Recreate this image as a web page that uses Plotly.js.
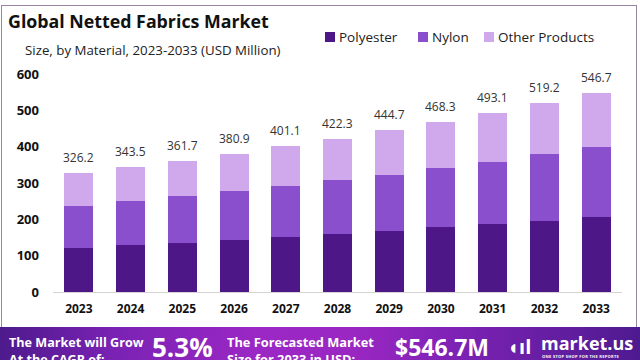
<!DOCTYPE html>
<html>
<head>
<meta charset="utf-8">
<script src="https://cdn.plot.ly/plotly-3.0.1.min.js"></script>
<style>
  html, body { margin:0; padding:0; background:#fff; }
  #wrap { position:relative; width:640px; height:360px; overflow:hidden; font-family:"Open Sans", sans-serif; }
  #chart { position:absolute; left:0; top:0; width:640px; height:360px; }
  #frame { position:absolute; left:1px; top:5px; width:634px; height:330px; border:1.5px solid #9a84a6; border-bottom:none; pointer-events:none; }
  #banner { position:absolute; left:0; top:327px; width:640px; height:33px; overflow:hidden;
    background:linear-gradient(90deg,#4d1a8c 0%,#7a22b4 18%,#9b28c4 40%,#9a27c2 55%,#7c22b4 72%,#4e1a90 100%); color:#fff; }
  .b { position:absolute; font-weight:700; white-space:nowrap; line-height:1.15; }
</style>
</head>
<body>
<div id="wrap">
  <div id="chart"></div>
  <div id="frame"></div>
  <div id="banner">
    <div class="b" style="left:9px;top:8px;font-size:12.6px;line-height:16.5px;">The Market will Grow<br>At the CAGR of:</div>
    <div class="b" style="left:152px;top:6px;font-size:26px;">5.3%</div>
    <div class="b" style="left:227px;top:7px;font-size:12.8px;line-height:16.5px;">The Forecasted Market<br>Size for 2033 in USD:</div>
    <div class="b" style="left:395px;top:7px;font-size:23px;">$546.7M</div>
    <div class="b" style="left:507px;top:8px;font-size:20px;">&#x25D6;ıl</div>
    <div class="b" style="left:541px;top:7px;font-size:18px;line-height:1;">market.us</div>
    <div class="b" style="left:542px;top:28px;font-size:4px;line-height:1;letter-spacing:0.3px;">ONE STOP SHOP FOR THE REPORTS</div>
  </div>
</div>
<script>
const years = ['2023','2024','2025','2026','2027','2028','2029','2030','2031','2032','2033'];
const polyester = [122, 130, 136, 144, 151, 160, 167, 178, 187, 196, 207];
const nylon = [114, 120, 127, 133, 140, 148, 156, 163, 172, 183, 192];
const otherProducts = [90.2, 93.5, 98.7, 103.9, 110.1, 114.3, 121.7, 127.3, 134.1, 140.2, 147.7];
const totals = [326.2, 343.5, 361.7, 380.9, 401.1, 422.3, 444.7, 468.3, 493.1, 519.2, 546.7];
const yTicks = [0, 100, 200, 300, 400, 500, 600];
const seriesNames = ['Polyester', 'Nylon', 'Other Products'];
const seriesColors = ['#4e1788', '#8a4fcd', '#d0a8ec'];

const font = '"Open Sans", sans-serif';
const seriesValues = [polyester, nylon, otherProducts];
const traces = seriesValues.map((vals, k) => ({
  type:'bar', name:seriesNames[k], x:years, y:vals, marker:{color:seriesColors[k]}, showlegend:false
}));

// total labels above each stack (category index position)
const annotations = years.map((yr, i) => ({
  x: i, y: totals[i], xref:'x', yref:'y', text: totals[i].toFixed(1),
  showarrow:false, yanchor:'bottom', yshift:5,
  font:{family:font, size:12, color:'#333'}
}));
annotations.push({
  xref:'paper', yref:'paper', x:-0.053, y:1.11, xanchor:'left', yanchor:'middle',
  text:'Size, by Material, 2023-2033 (USD Million)', showarrow:false,
  font:{family:font, size:13.3, color:'#222'}
});

// custom legend (square + label) placed in the header
const plotL = 53, plotW = 569, plotB = 292, plotH = 218;
const legendSquareX = [325, 418, 484];
const legendY = (plotB - 37) / plotH;
const shapes = [];
seriesNames.forEach((nm, k) => {
  const ax = (legendSquareX[k] - plotL) / plotW;
  shapes.push({type:'rect', xref:'paper', yref:'paper', xsizemode:'pixel', ysizemode:'pixel',
    xanchor:ax, yanchor:legendY, x0:0, x1:10, y0:-5, y1:5, fillcolor:seriesColors[k], line:{width:0}});
  annotations.push({xref:'paper', yref:'paper', x:ax, xshift:12, y:legendY, xanchor:'left', yanchor:'middle',
    text:nm, showarrow:false, font:{family:font, size:13.5, color:'#222'}});
});

const layout = {
  width:640, height:360,
  margin:{l:plotL, r:640 - plotL - plotW, t:plotB - plotH, b:360 - plotB},
  paper_bgcolor:'rgba(0,0,0,0)', plot_bgcolor:'rgba(0,0,0,0)',
  barmode:'stack', bargap:0.44,
  title:{text:'<b>Global Netted Fabrics Market</b>', x:0.0125, xanchor:'left', xref:'container',
         y:0.94, yanchor:'middle', yref:'container', font:{family:font, size:17.8, color:'#111'}},
  xaxis:{type:'category', range:[-0.5, years.length - 0.5], showline:true, linecolor:'#d4d4d4', linewidth:1, ticks:'',
         tickfont:{family:font, size:12, color:'#111', weight:700}, ticklabelstandoff:6},
  yaxis:{range:[0,600], tickvals:yTicks, showgrid:false, zeroline:false, showline:false, ticks:'',
         tickfont:{family:font, size:13, color:'#111', weight:700}, ticklabelstandoff:13},
  annotations: annotations,
  shapes: shapes,
  showlegend:false
};
Plotly.newPlot('chart', traces, layout, {displayModeBar:false, staticPlot:true});
</script>
</body>
</html>
